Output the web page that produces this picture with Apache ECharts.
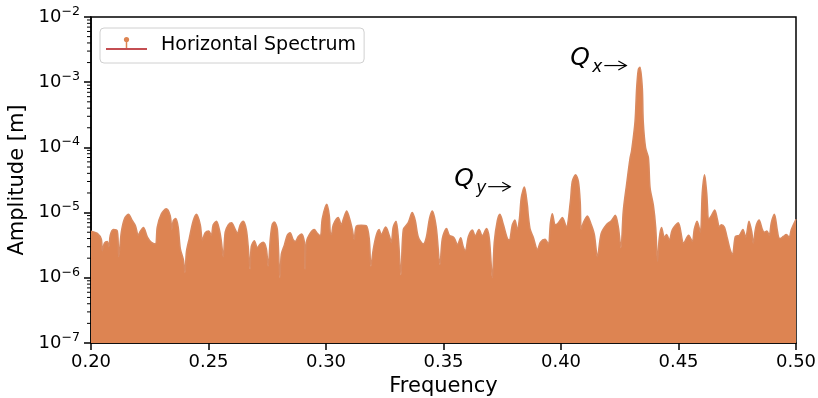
<!DOCTYPE html>
<html>
<head>
<meta charset="utf-8">
<script src="https://cdn.jsdelivr.net/npm/echarts@6/dist/echarts.min.js"></script>
<style>
  html, body { margin: 0; padding: 0; background: #fff; overflow: hidden; }
  #chart { width: 818px; height: 398px; }
</style>
</head>
<body>
<div id="chart"></div>
<script>
// envelope of the horizontal spectrum (stem tops)
const freq = [
  0.2000, 0.2027, 0.2044, 0.2048, 0.2057, 0.2069, 0.2076, 0.2082, 0.2095, 0.2112,
  0.2118, 0.2129, 0.2142, 0.2159, 0.2176, 0.2189, 0.2201, 0.2210, 0.2223, 0.2240,
  0.2257, 0.2274, 0.2282, 0.2299, 0.2320, 0.2337, 0.2344, 0.2350, 0.2360, 0.2371,
  0.2380, 0.2393, 0.2400, 0.2406, 0.2418, 0.2435, 0.2449, 0.2465, 0.2474, 0.2486,
  0.2501, 0.2512, 0.2520, 0.2534, 0.2546, 0.2554, 0.2563, 0.2571, 0.2584, 0.2598,
  0.2614, 0.2623, 0.2635, 0.2648, 0.2661, 0.2669, 0.2677, 0.2682, 0.2695, 0.2708,
  0.2720, 0.2733, 0.2746, 0.2754, 0.2763, 0.2771, 0.2780, 0.2793, 0.2804, 0.2810,
  0.2823, 0.2835, 0.2847, 0.2861, 0.2869, 0.2882, 0.2896, 0.2908, 0.2911, 0.2916,
  0.2929, 0.2950, 0.2963, 0.2976, 0.2984, 0.3003, 0.3014, 0.3018, 0.3023, 0.3031,
  0.3052, 0.3065, 0.3074, 0.3088, 0.3103, 0.3112, 0.3120, 0.3129, 0.3150, 0.3171,
  0.3184, 0.3191, 0.3201, 0.3214, 0.3226, 0.3235, 0.3254, 0.3269, 0.3278, 0.3286,
  0.3298, 0.3308, 0.3319, 0.3329, 0.3350, 0.3367, 0.3380, 0.3393, 0.3414, 0.3427,
  0.3440, 0.3452, 0.3469, 0.3485, 0.3495, 0.3513, 0.3525, 0.3542, 0.3550, 0.3559,
  0.3573, 0.3584, 0.3593, 0.3606, 0.3623, 0.3635, 0.3651, 0.3665, 0.3683, 0.3695,
  0.3708, 0.3716, 0.3729, 0.3740, 0.3755, 0.3772, 0.3780, 0.3793, 0.3804, 0.3814,
  0.3823, 0.3831, 0.3844, 0.3857, 0.3861, 0.3869, 0.3882, 0.3900, 0.3912, 0.3932,
  0.3946, 0.3955, 0.3963, 0.3976, 0.3989, 0.4006, 0.4023, 0.4040, 0.4048, 0.4062,
  0.4074, 0.4082, 0.4086, 0.4095, 0.4112, 0.4129, 0.4142, 0.4155, 0.4171, 0.4194,
  0.4214, 0.4231, 0.4244, 0.4255, 0.4265, 0.4279, 0.4294, 0.4300, 0.4315, 0.4322,
  0.4329, 0.4336, 0.4346, 0.4350, 0.4360, 0.4372, 0.4379, 0.4393, 0.4403, 0.4411,
  0.4418, 0.4428, 0.4440, 0.4449, 0.4461, 0.4474, 0.4499, 0.4522, 0.4543, 0.4559,
  0.4567, 0.4579, 0.4593, 0.4601, 0.4611, 0.4620, 0.4629, 0.4640, 0.4654, 0.4665,
  0.4674, 0.4682, 0.4695, 0.4708, 0.4720, 0.4730, 0.4742, 0.4759, 0.4774, 0.4786,
  0.4800, 0.4812, 0.4818, 0.4829, 0.4843, 0.4857, 0.4865, 0.4876, 0.4886, 0.4895,
  0.4908, 0.4920, 0.4926, 0.4933, 0.4946, 0.4959, 0.4971, 0.4980, 0.5000
];
const amplitude = [
  5.2e-6, 4.8e-6, 3.9e-6, 2.6e-6, 3.4e-6, 3.6e-6, 3.0e-6, 4.5e-6, 5.5e-6, 5.2e-6,
  2.1e-6, 5.0e-6, 8.0e-6, 9.4e-6, 7.5e-6, 6.3e-6, 4.5e-6, 5.2e-6, 5.9e-6, 4.2e-6,
  3.5e-6, 3.3e-6, 6.0e-6, 9.5e-6, 1.15e-5, 9.0e-6, 5.5e-6, 7.5e-6, 8.1e-6, 6.0e-6,
  2.8e-6, 1.9e-6, 1.2e-6, 2.5e-6, 4.0e-6, 7.5e-6, 9.4e-6, 6.5e-6, 3.8e-6, 4.9e-6,
  5.2e-6, 4.5e-6, 6.5e-6, 7.4e-6, 5.5e-6, 3.8e-6, 2.1e-6, 5.0e-6, 6.5e-6, 7.0e-6,
  5.5e-6, 4.8e-6, 6.5e-6, 7.4e-6, 5.5e-6, 3.0e-6, 1.35e-6, 3.0e-6, 3.7e-6, 2.9e-6,
  3.3e-6, 3.5e-6, 2.8e-6, 1.5e-6, 4.0e-6, 6.5e-6, 7.2e-6, 5.5e-6, 1.0e-6, 2.3e-6,
  3.2e-6, 4.5e-6, 4.9e-6, 3.8e-6, 3.6e-6, 4.3e-6, 4.7e-6, 3.5e-6, 1.35e-6, 3.5e-6,
  4.6e-6, 5.5e-6, 4.8e-6, 4.4e-6, 8.0e-6, 1.34e-5, 9.0e-6, 5.0e-6, 4.6e-6, 6.5e-6,
  8.4e-6, 6.5e-6, 8.0e-6, 1.06e-5, 7.5e-6, 5.5e-6, 3.9e-6, 6.2e-6, 6.4e-6, 6.3e-6,
  4.0e-6, 1.5e-6, 2.7e-6, 4.5e-6, 5.5e-6, 4.6e-6, 6.0e-6, 4.5e-6, 3.5e-6, 6.0e-6,
  7.4e-6, 4.0e-6, 1.1e-6, 5.5e-6, 7.0e-6, 1.0e-5, 7.5e-6, 4.2e-6, 3.3e-6, 4.2e-6,
  8.0e-6, 1.06e-5, 6.0e-6, 1.6e-6, 4.0e-6, 5.7e-6, 4.5e-6, 4.2e-6, 3.8e-6, 3.2e-6,
  4.1e-6, 3.0e-6, 2.6e-6, 4.3e-6, 5.4e-6, 4.4e-6, 5.5e-6, 4.4e-6, 5.7e-6, 4.0e-6,
  1.0e-6, 3.5e-6, 7.5e-6, 9.4e-6, 6.5e-6, 4.0e-6, 3.8e-6, 6.5e-6, 7.7e-6, 5.5e-6,
  8.0e-6, 1.7e-5, 2.46e-5, 1.3e-5, 9.0e-6, 5.5e-6, 4.2e-6, 2.7e-6, 3.5e-6, 3.9e-6,
  3.3e-6, 7.0e-6, 9.6e-6, 6.5e-6, 7.0e-6, 8.4e-6, 6.0e-6, 1.5e-5, 3.0e-5, 3.8e-5,
  3.0e-5, 1.4e-5, 5.5e-6, 7.0e-6, 8.9e-6, 6.5e-6, 4.6e-6, 2.1e-6, 4.8e-6, 6.6e-6,
  7.5e-6, 9.1e-6, 6.0e-6, 2.9e-6, 1.06e-5, 2.7e-5, 6.9e-5, 8.7e-5, 2.5e-4, 8.2e-4,
  1.56e-3, 1.7e-3, 8.2e-4, 2.5e-4, 9.8e-5, 6.9e-5, 2.4e-5, 1.3e-5, 5.9e-6, 1.8e-6,
  4.0e-6, 5.9e-6, 4.2e-6, 4.6e-6, 3.8e-6, 5.5e-6, 7.0e-6, 3.4e-6, 4.5e-6, 3.6e-6,
  5.5e-6, 7.4e-6, 5.0e-6, 2.0e-5, 3.8e-5, 2.0e-5, 8.0e-6, 9.0e-6, 1.1e-5, 8.0e-6,
  6.0e-6, 6.5e-6, 6.0e-6, 4.0e-6, 2.7e-6, 2.3e-6, 4.3e-6, 4.5e-6, 5.5e-6, 4.2e-6,
  7.4e-6, 5.0e-6, 3.4e-6, 6.0e-6, 7.7e-6, 5.5e-6, 5.0e-6, 5.2e-6, 4.5e-6, 7.0e-6,
  9.4e-6, 5.5e-6, 4.2e-6, 4.0e-6, 4.3e-6, 4.6e-6, 4.2e-6, 5.5e-6, 7.9e-6
];

const xTicks = [0.20, 0.25, 0.30, 0.35, 0.40, 0.45, 0.50];
const yExponents = [-7, -6, -5, -4, -3, -2];

// annotation arrow tips: [freq, amplitude]
const annotations = [
  { sub: 'x', tip: [0.4278, 1.8e-3] },
  { sub: 'y', tip: [0.3784, 2.5e-5] }
];

const FONT = 'DejaVu Sans';
const ORANGE = '#DD8452';
const RED = '#C44E52';

const chart = echarts.init(document.getElementById('chart'), null, { width: 818, height: 398 });
const points = freq.map((f, i) => [f, amplitude[i]]);

chart.setOption({
  animation: false,
  backgroundColor: '#fff',
  grid: {
    left: 91, right: 22, top: 17, bottom: 55,
    outerBoundsMode: 'none',
    show: true, borderColor: '#000', borderWidth: 1.5, backgroundColor: 'transparent'
  },
  legend: {
    left: 100, top: 28,
    data: ['Horizontal Spectrum'],
    icon: 'rect',
    itemWidth: 40, itemHeight: 17,
    itemStyle: { opacity: 0 },
    padding: [8, 8, 8, 6],
    backgroundColor: '#fff',
    borderColor: '#d0d0d0', borderWidth: 1, borderRadius: 4,
    textStyle: { fontFamily: FONT, fontSize: 19, lineHeight: 17, color: '#000', padding: [0, 0, 0, 10] }
  },
  xAxis: {
    type: 'value', min: 0.2, max: 0.5, interval: 0.05,
    name: 'Frequency', nameLocation: 'middle', nameGap: 33,
    nameTextStyle: { fontFamily: FONT, fontSize: 21, color: '#000' },
    axisLine: { show: true, lineStyle: { color: '#000', width: 1.5 } },
    axisTick: { show: true, length: 7, lineStyle: { color: '#000', width: 1.5 } },
    axisLabel: {
      fontFamily: FONT, fontSize: 18, color: '#000', margin: 10,
      formatter: v => xTicks.find(t => Math.abs(t - v) < 1e-9).toFixed(2)
    },
    splitLine: { show: false }
  },
  yAxis: {
    type: 'log', logBase: 10, min: 1e-7, max: 1e-2,
    name: 'Amplitude [m]', nameLocation: 'middle', nameGap: 60,
    nameTextStyle: { fontFamily: FONT, fontSize: 21, color: '#000' },
    axisLine: { show: true, lineStyle: { color: '#000', width: 1.5 } },
    axisTick: { show: true, length: 7, lineStyle: { color: '#000', width: 1.5 } },
    axisLabel: {
      margin: 11,
      formatter: v => {
        const e = yExponents.find(k => Math.abs(Math.log10(v) - k) < 1e-6);
        return '{b|10}{e|\u2212' + Math.abs(e) + '}';
      },
      rich: {
        b: { fontFamily: FONT, fontSize: 18, color: '#000', lineHeight: 24 },
        e: { fontFamily: FONT, fontSize: 12.6, color: '#000', lineHeight: 12, verticalAlign: 'top' }
      }
    },
    splitLine: { show: false }
  },
  series: [{
    name: 'Horizontal Spectrum',
    type: 'line',
    data: points,
    smooth: 0.3,
    showSymbol: false,
    color: ORANGE,
    lineStyle: { color: '#d98a60', width: 1.5 },
    areaStyle: { color: ORANGE, opacity: 1, origin: 'start' },
    z: 2
  }]
});

// log minor ticks, stem-plot legend key, and Q annotations
function decorate() {
  const els = [];
  for (let e = -7; e < -2; e++) {
    for (let k = 2; k <= 9; k++) {
      const p = chart.convertToPixel({ gridIndex: 0 }, [0.2, k * Math.pow(10, e)]);
      els.push({
        type: 'line', silent: true, z: 10,
        shape: { x1: p[0] - 4, y1: p[1], x2: p[0], y2: p[1] },
        style: { stroke: '#000', lineWidth: 1 }
      });
    }
  }
  // legend key: red baseline, orange stem with marker
  els.push({
    type: 'line', silent: true, z: 100,
    shape: { x1: 106, y1: 49, x2: 147, y2: 49 },
    style: { stroke: RED, lineWidth: 2 }
  });
  els.push({
    type: 'line', silent: true, z: 101,
    shape: { x1: 126.5, y1: 48, x2: 126.5, y2: 40 },
    style: { stroke: ORANGE, lineWidth: 1.5 }
  });
  els.push({
    type: 'circle', silent: true, z: 101,
    shape: { cx: 126.5, cy: 39.5, r: 2.6 },
    style: { fill: ORANGE }
  });
  annotations.forEach(a => {
    const t = chart.convertToPixel({ gridIndex: 0 }, a.tip);
    const x = t[0], y = t[1];
    els.push({
      type: 'text', silent: true, z: 100,
      style: { text: 'Q', x: x - 56, y: y - 7, fill: '#000', font: 'italic 25px "DejaVu Sans"', verticalAlign: 'middle', align: 'left' }
    });
    els.push({
      type: 'text', silent: true, z: 100,
      style: { text: a.sub, x: x - 34, y: y + 2, fill: '#000', font: 'italic 17px "DejaVu Sans"', verticalAlign: 'middle', align: 'left' }
    });
    els.push({
      type: 'line', silent: true, z: 100,
      shape: { x1: x - 22, y1: y, x2: x, y2: y },
      style: { stroke: '#000', lineWidth: 1.2 }
    });
    els.push({
      type: 'polyline', silent: true, z: 100,
      shape: { points: [[x - 8, y - 4.5], [x, y], [x - 8, y + 4.5]] },
      style: { stroke: '#000', lineWidth: 1.2, fill: null }
    });
  });
  chart.setOption({ graphic: els });
}
decorate();
</script>
</body>
</html>
